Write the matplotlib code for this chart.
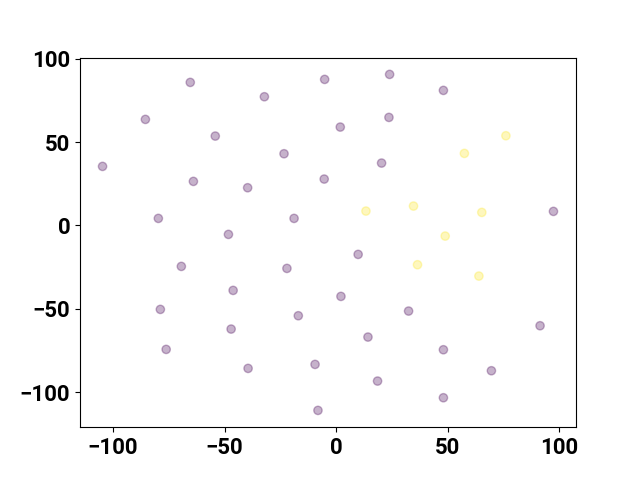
import matplotlib
matplotlib.use("Agg")
import matplotlib.pyplot as plt

# Points #

x_vals = [-104.7, -85.5, -65.4, -32.2, -54.2, -23.4, -64.0, -39.7, -79.7, -18.9,
          -48.3, -5.2, 23.9, 48.0, 1.8, 23.6, 20.3, -5.4, 97.3, 9.8,
          -69.4, -22.1, -46.2, -78.8, -17.0, -47.1, -76.2, -39.5, -9.5, -8.2,
          2.1, 32.4, 14.2, 91.3, 48.0, 69.5, 18.5, 48.0,
          57.4, 76.0, 13.3, 34.6, 65.2, 48.8, 36.4, 63.9]
y_vals = [35.4, 63.6, 85.8, 77.2, 53.6, 43.0, 26.4, 22.6, 4.2, 4.2,
          -5.4, 87.6, 90.6, 81.0, 59.0, 64.8, 37.4, 27.8, 8.4, -17.4,
          -24.6, -25.8, -39.0, -50.4, -54.2, -62.2, -74.4, -85.8, -83.4, -111.0,
          -42.6, -51.4, -67.0, -60.2, -74.6, -87.2, -93.4, -103.4,
          43.2, 53.8, 8.6, 11.6, 7.8, -6.4, -23.6, -30.4]
labels = [0] * 38 + [1] * 8

plt.rcParams["font.family"] = ["Roboto", "DejaVu Sans"]
plt.rcParams["font.weight"] = "bold"

fig, ax = plt.subplots(figsize=(6.4, 4.8), dpi=100)
ax.scatter(x_vals, y_vals, c=labels, cmap="viridis", alpha=0.3)
ax.tick_params(labelsize=16)
for lbl in ax.get_xticklabels() + ax.get_yticklabels():
    lbl.set_fontweight("bold")

fig.savefig("out.png")
